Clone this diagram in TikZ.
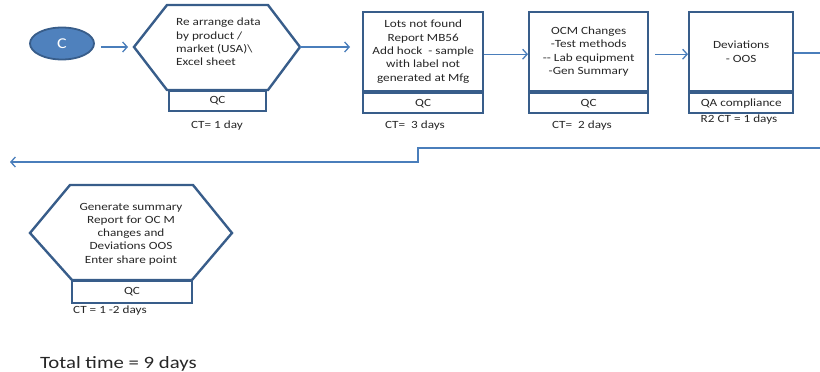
\documentclass[tikz,border=0pt]{standalone}
\usepackage{fontspec}
\setmainfont[FakeStretch=1.2]{Carlito}
\usetikzlibrary{shapes.geometric,arrows.meta}
\definecolor{edge}{HTML}{385D8A}
\definecolor{flow}{HTML}{4A7EBB}
\definecolor{fillc}{HTML}{4F81BD}
\definecolor{ink}{HTML}{262626}

\begin{document}
\begin{tikzpicture}[x=1pt,y=-1pt,
  txt/.style={font=\fontsize{11}{13.3}\selectfont, text=ink, inner sep=0pt},
  shape line/.style={draw=edge, line width=2.4pt, line join=miter},
  stepbox/.style={txt, draw=edge, line width=2.4pt, align=center, anchor=north west},
  rolebox/.style={txt, draw=edge, line width=1.8pt, fill=white, anchor=north},
  ctlabel/.style={txt, anchor=base},
  flowarrow/.style={draw=flow, line width=1.3pt, line join=miter,
    -{Straight Barb[length=4.5pt,width=10pt,line width=1.3pt]}}
]
\useasboundingbox (0,0) rectangle (820,372);

% start connector
\node[ellipse, draw=edge, line width=1.8pt, fill=fillc, minimum width=64pt,
  minimum height=32pt, inner sep=0pt, text=white,
  font=\fontsize{15}{15}\selectfont] (C) at (62,43.5) {C};

% step 1: hexagon
\draw[shape line] (134,47) coordinate (h1w) -- (167,5) -- (268,5)
  -- (300,47) coordinate (h1e) -- (268,90) -- (167,90) coordinate (h1b) -- cycle;
\node[txt, align=left, anchor=west] (h1t) at (176,42)
  {Re arrange data\\by product /\\market (USA)\textbackslash\\Excel sheet};
\node[rolebox, minimum width=97pt, minimum height=20pt] (r1) at (217.5,90) {QC};
\node[ctlabel] (ct1) at (217,128) {CT= 1 day};

% step 2
\node[stepbox, minimum width=120pt, minimum height=79pt] (b2) at (362,11)
  {Lots not found\\Report MB56\\Add hock\ \ - sample\\with label not\\generated at Mfg};
\node[rolebox, minimum width=120pt, minimum height=20pt] (r2) at (b2.south) {QC};
\node[ctlabel] (ct2) at (415,128.5) {CT=\ \ 3 days};

% step 3
\node[stepbox, minimum width=119pt, minimum height=79pt] (b3) at (528,11)
  {OCM Changes\\-Test methods\\-{}- Lab equipment\\-Gen Summary};
\node[rolebox, minimum width=119pt, minimum height=20pt] (r3) at (b3.south) {QC};
\node[ctlabel] (ct3) at (582,128.5) {CT=\ \ 2 days};

% step 4
\node[stepbox, minimum width=104pt, minimum height=79pt] (b4) at (688,11)
  {Deviations\\- OOS};
\node[rolebox, minimum width=104pt, minimum height=20pt] (r4) at (b4.south) {QA compliance};
\node[ctlabel] (ct4) at (739,122.5) {R2 CT = 1 days};

% step 5: hexagon
\draw[shape line] (30,233) coordinate (h2w) -- (70,185) -- (193,185)
  -- (232,233) coordinate (h2e) -- (192,280) -- (72,280) -- cycle;
\node[txt, align=center] (h2t) at (131,234)
  {Generate summary\\Report for OC M\\changes and\\Deviations OOS\\Enter share point};
\node[rolebox, minimum width=120pt, minimum height=22pt] (r5) at (132,280) {QC};
\node[ctlabel, anchor=base west] (ct5) at (73,313.5) {CT = 1 -2 days};

\node[txt, anchor=base west, font=\fontsize{17.3}{18}\selectfont] (total) at (40,368)
  {Total time = 9 days};

% connectors
\coordinate (out4) at (828,53);
\coordinate (retin) at (822,148);
\coordinate (retout) at (10,162);
\draw[flowarrow, shorten <=6pt, shorten >=6pt] (C.east |- h1w) -- (h1w);
\draw[flowarrow, shorten >=12pt] (h1e) -- (b2.west |- h1e);
\draw[flowarrow] ([yshift=-2.5pt]b2.east) -- ([yshift=-2.5pt]b3.west);
\draw[flowarrow, shorten <=6pt] ([yshift=-2.5pt]b3.east) -- ([yshift=-2.5pt]b4.west);
\draw[flowarrow] (b4.east |- out4) -- (out4);
\draw[flowarrow] (retin) -- (418,148) -- (418,162) -- (retout);
\end{tikzpicture}
\end{document}
